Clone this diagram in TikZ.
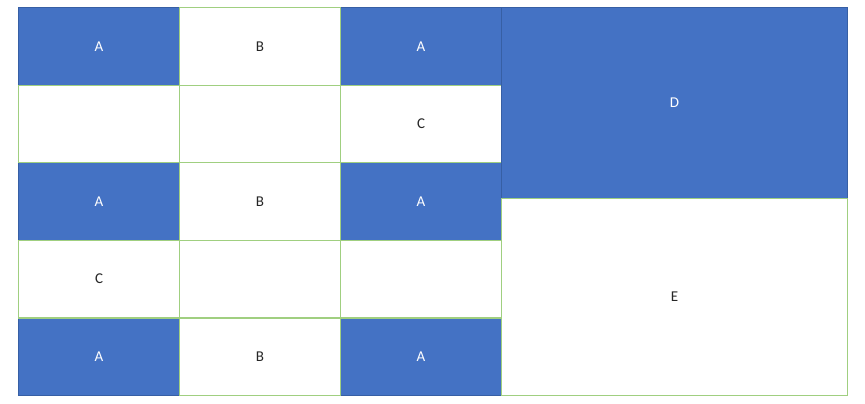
\documentclass[tikz,border=0pt]{standalone}
\usepackage{fontspec}
\setmainfont{Carlito}
\definecolor{cellblue}{HTML}{4472C4}
\definecolor{cellline}{HTML}{2F528F}
\definecolor{cellgreen}{HTML}{A0CF80}
\begin{document}
\begin{tikzpicture}[x=1pt, y=-1pt,
  cell/.style={minimum width=161pt, minimum height=77.6pt, anchor=north west,
    inner sep=0pt, line width=1.1pt, font=\fontsize{15}{17}\selectfont},
  bluecell/.style={cell, fill=cellblue, draw=cellline!60!cellblue, text=white},
  whitecell/.style={cell, fill=white, draw=cellgreen, text=black!85}]
\useasboundingbox (0,0) rectangle (865,404);

% blue cells first, so the green lines stay on top
\foreach \r/\c/\kind/\txt in {1/1/bluecell/A, 1/3/bluecell/A, 3/1/bluecell/A, 3/3/bluecell/A,
    5/1/bluecell/A, 5/3/bluecell/A,
    1/2/whitecell/B, 2/1/whitecell/{}, 2/2/whitecell/{}, 2/3/whitecell/C,
    3/2/whitecell/B, 4/1/whitecell/C, 4/2/whitecell/{}, 4/3/whitecell/{}, 5/2/whitecell/B}
{
  \node[\kind] (c\r\c) at ({18+161*(\c-1)}, {7+77.6*(\r-1)}) {\txt};
}

\node[bluecell, minimum width=346pt, minimum height=191pt] (d) at (501,7) {D};
\node[whitecell, minimum width=346pt, minimum height=197pt] (e) at (501,198) {E};
\end{tikzpicture}
\end{document}
